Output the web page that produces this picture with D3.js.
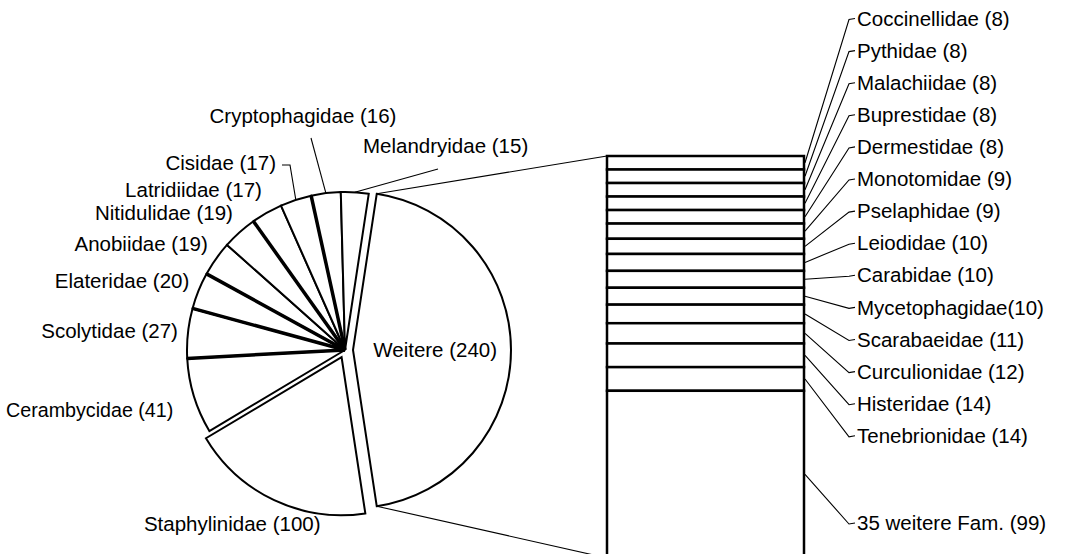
<html>
<head>
<title>bar-of-pie</title>
<script src="https://d3js.org/d3.v7.min.js"></script>
<style>
  body { margin: 0; background: #fff; }
  text { font-family: "Liberation Sans", Arial, sans-serif; font-size: 20.5px; fill: #000; }
</style>
</head>
<body>
<script>
// pie: "Weitere" is the part broken out into the bar
const pieNames = ["Weitere", "Staphylinidae", "Cerambycidae", "Scolytidae", "Elateridae", "Anobiidae",
                  "Nitidulidae", "Latridiidae", "Cisidae", "Cryptophagidae", "Melandryidae"];
const pieValues = [240, 100, 41, 27, 20, 19, 19, 17, 17, 16, 15];
const pieLabels = ["Weitere (240)", "Staphylinidae (100)", "Cerambycidae (41)", "Scolytidae (27)", "Elateridae (20)",
                   "Anobiidae (19)", "Nitidulidae (19)", "Latridiidae (17)", "Cisidae (17)", "Cryptophagidae (16)",
                   "Melandryidae (15)"];

// stacked bar, top to bottom
const barNames = ["Coccinellidae", "Pythidae", "Malachiidae", "Buprestidae", "Dermestidae", "Monotomidae",
                  "Pselaphidae", "Leiodidae", "Carabidae", "Mycetophagidae", "Scarabaeidae", "Curculionidae",
                  "Histeridae", "Tenebrionidae", "35 weitere Fam."];
const barValues = [8, 8, 8, 8, 8, 9, 9, 10, 10, 10, 11, 12, 14, 14, 99];
const barLabels = ["Coccinellidae (8)", "Pythidae (8)", "Malachiidae (8)", "Buprestidae (8)", "Dermestidae (8)",
                   "Monotomidae (9)", "Pselaphidae (9)", "Leiodidae (10)", "Carabidae (10)", "Mycetophagidae(10)",
                   "Scarabaeidae (11)", "Curculionidae (12)", "Histeridae (14)", "Tenebrionidae (14)",
                   "35 weitere Fam. (99)"];

const w = 1066, h = 554;
const svg = d3.select("body").append("svg").attr("width", w).attr("height", h);

// ---- pie ----
const cx = 345, cy = 350, r = 158;
const total = d3.sum(pieValues);
const a0 = Math.PI / 2 - Math.PI * pieValues[0] / total; // "Weitere" centred on the right
const arcs = d3.pie().sort(null).value(d => d).startAngle(a0).endAngle(a0 + 2 * Math.PI)(pieValues);
const arc = d3.arc().innerRadius(0).outerRadius(r);
const explode = [8, 8];
const thickEdges = [2, 3, 4, 6, 8]; // slice borders that print heavier in the original

function origin(d, i) {
  const m = (d.startAngle + d.endAngle) / 2, o = explode[i] || 0;
  return [cx + Math.sin(m) * o, cy - Math.cos(m) * o];
}

svg.append("g").selectAll("path")
  .data(arcs)
  .enter()
  .append("path")
  .attr("d", arc)
  .attr("transform", (d, i) => "translate(" + origin(d, i) + ")")
  .attr("fill", "#fff")
  .attr("stroke", "#000")
  .attr("stroke-width", 2);

svg.append("g").selectAll("line")
  .data(thickEdges)
  .enter()
  .append("line")
  .attr("x1", cx).attr("y1", cy)
  .attr("x2", i => cx + Math.sin(arcs[i].endAngle) * r)
  .attr("y2", i => cy - Math.cos(arcs[i].endAngle) * r)
  .attr("stroke", "#000")
  .attr("stroke-width", 3.5);

// pie labels
const leader = {
  "Cisidae": { x: 276, y: 163, anchor: "end" },
  "Cryptophagidae": { x: 303, y: 116, anchor: "middle", gap: 22 },
  "Melandryidae": { x: 363, y: 146, anchor: "start", end: [438, 169] }
};
const nudge = { "Cerambycidae": [-11, 6] };
const labels = svg.append("g");
arcs.forEach((d, i) => {
  const name = pieNames[i];
  const m = (d.startAngle + d.endAngle) / 2;
  const [ox, oy] = origin(d, i);
  const dx = Math.sin(m), dy = -Math.cos(m);
  if (i === 0) {
    labels.append("text").attr("x", ox + r * 0.52).attr("y", oy).attr("dy", "0.35em")
      .attr("text-anchor", "middle").text(pieLabels[i]);
    return;
  }
  const px = ox + dx * r, py = oy + dy * r;
  if (leader[name]) {
    const L = leader[name];
    labels.append("text").attr("x", L.x).attr("y", L.y).attr("dy", "0.35em")
      .attr("text-anchor", L.anchor).text(pieLabels[i]);
    let pts;
    if (L.anchor === "end") pts = [[px, py], [L.x + 14, L.y + 2], [L.x + 6, L.y + 2]];
    else if (L.end) pts = [[px, py], L.end];
    else pts = [[px, py], [L.x + 8, L.y + L.gap]];
    labels.append("path").attr("d", d3.line()(pts)).attr("fill", "none")
      .attr("stroke", "#000").attr("stroke-width", 1.1);
    return;
  }
  const [nx, ny] = nudge[name] || [0, 0];
  const lx = ox + dx * (r + 10) + nx, ly = oy + dy * (r + 10) + dy * 16 + ny;
  const t = labels.append("text").attr("y", ly).attr("dy", "0.35em").text(pieLabels[i]);
  const tw = t.node().getComputedTextLength();
  if (dx < -0.45) {
    t.attr("x", lx).attr("text-anchor", "end");
    // keep long labels inside the left edge
    if (lx - tw < 6) t.attr("textLength", lx - 6).attr("lengthAdjust", "spacingAndGlyphs");
  } else if (dx > 0.45) t.attr("x", lx).attr("text-anchor", "start");
  else t.attr("x", lx + dx * tw / 2).attr("text-anchor", "middle");
});

// ---- bar ----
const bx0 = 607, bx1 = 804;
const barTotal = d3.sum(barValues);
const y = d3.scaleLinear().domain([0, barTotal]).range([156, 558]);
const starts = [0, ...d3.cumsum(barValues)];

svg.append("g").selectAll("rect")
  .data(barValues)
  .enter()
  .append("rect")
  .attr("x", bx0)
  .attr("y", (d, i) => y(starts[i]))
  .attr("width", bx1 - bx0)
  .attr("height", d => y(d) - y(0))
  .attr("fill", "#fff")
  .attr("stroke", "#000")
  .attr("stroke-width", 2.5);

// series lines from the broken-out slice to the bar
const wo = origin(arcs[0], 0);
const wTop = [wo[0] + Math.sin(arcs[0].startAngle) * r, wo[1] - Math.cos(arcs[0].startAngle) * r];
const wBot = [wo[0] + Math.sin(arcs[0].endAngle) * r, wo[1] - Math.cos(arcs[0].endAngle) * r];
svg.append("path")
  .attr("d", d3.line()([wTop, [bx0, y(0)]]) + d3.line()([wBot, [bx0, y(barTotal)]]))
  .attr("fill", "none").attr("stroke", "#000").attr("stroke-width", 1.1);

// bar labels
const labelY = i => i < barValues.length - 1 ? 18.5 + i * 32.1 : 523;
const bl = svg.append("g");
barValues.forEach((v, i) => {
  const mid = y(starts[i] + v / 2), ly = labelY(i);
  bl.append("path")
    .attr("d", d3.line()([[bx1 + 1, mid], [849, ly + 1], [855, ly]]))
    .attr("fill", "none").attr("stroke", "#000").attr("stroke-width", 1.1);
  bl.append("text").attr("x", 857).attr("y", ly).attr("dy", "0.35em").text(barLabels[i]);
});
</script>
</body>
</html>
